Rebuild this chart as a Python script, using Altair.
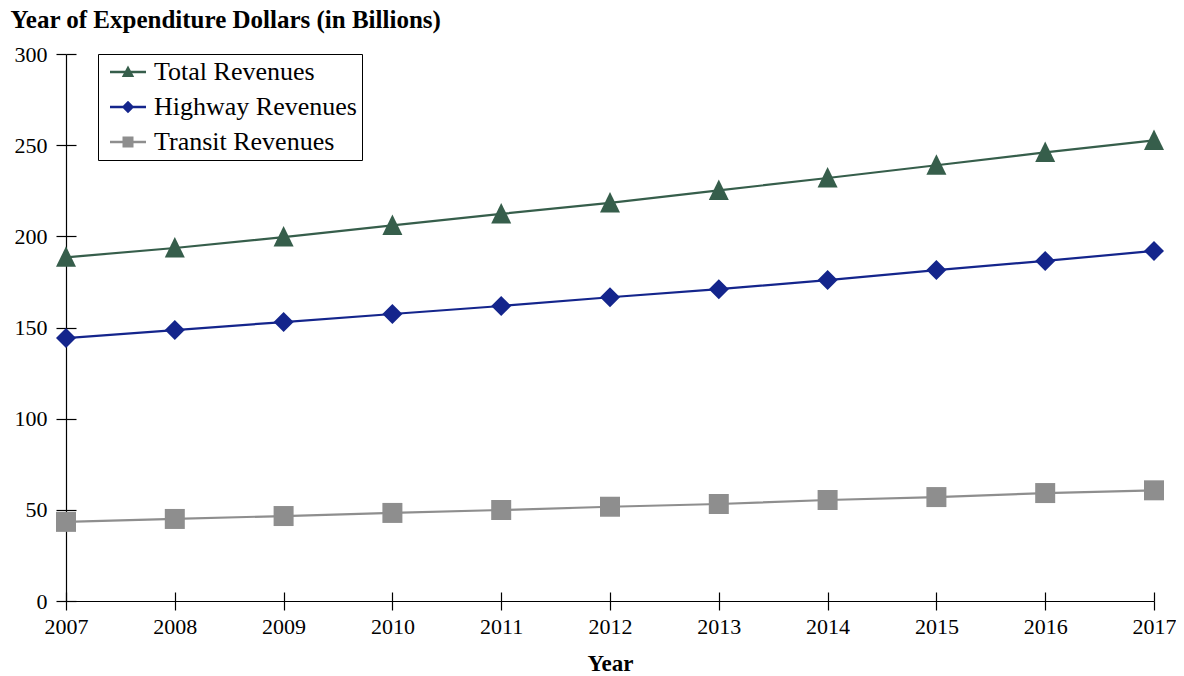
import altair as alt
import pandas as pd

years = [2007, 2008, 2009, 2010, 2011, 2012, 2013, 2014, 2015, 2016, 2017]
total = [188.5, 193.6, 199.6, 206.0, 212.3, 218.3, 225.2, 232.0, 239.0, 246.0, 252.6]
highway = [144.2, 148.6, 153.0, 157.4, 161.8, 166.6, 171.0, 176.0, 181.5, 186.5, 192.0]
transit = [43.4, 45.0, 46.6, 48.3, 49.9, 51.7, 53.2, 55.4, 57.0, 59.2, 60.7]
series_names = ["Total Revenues", "Highway Revenues", "Transit Revenues"]
colors = ["#365e4b", "#14258c", "#8e8e8e"]
y_ticks = [0, 50, 100, 150, 200, 250, 300]

rows = []
for name, vals in zip(series_names, [total, highway, transit]):
    for yr, v in zip(years, vals):
        rows.append({"year": yr, "value": v, "series": name})
df = pd.DataFrame(rows)

W, H = 1088, 547
FONT = "Liberation Serif"

tri = "M0,-1.1L1,0.95L-1,0.95Z"
marker_shapes = [tri, "diamond", "square"]

# legend glyphs: short line with the series marker
bar = "M-1.8,-0.12H1.8V0.12H-1.8Z "
leg_tri = bar + "M0,-0.65L0.62,0.5L-0.62,0.5Z"
leg_dia = bar + "M0,-0.62L0.62,0L0,0.62L-0.62,0Z"
leg_sq = bar + "M-0.55,-0.55H0.55V0.55H-0.55Z"
sym_expr = (
    f"datum.value === '{series_names[0]}' ? '{leg_tri}' : "
    f"(datum.value === '{series_names[1]}' ? '{leg_dia}' : '{leg_sq}')"
)

legend = alt.Legend(
    title=None, orient="none", legendX=32, legendY=0,
    strokeColor="black", fillColor="white", padding=5,
    labelFont=FONT, labelFontSize=26, labelColor="black", labelOffset=13,
    labelLimit=500, labelExpr="datum.label + ' '",
    symbolSize=400, symbolStrokeWidth=0, symbolOpacity=1, symbolOffset=12,
    rowPadding=9, symbolType=alt.ExprRef(sym_expr),
)

cscale = alt.Scale(domain=series_names, range=colors)
color_leg = alt.Color("series:N", scale=cscale, legend=legend)
xscale = alt.Scale(domain=[2007, 2017], nice=False, zero=False)
yscale = alt.Scale(domain=[0, 300], nice=False)

x_main = alt.X("year:Q", scale=xscale, axis=alt.Axis(
    values=years, format="d", tickSize=9, labelPadding=6, grid=False, labelFlush=False,
    title="Year", titleFontWeight="bold", titleFont=FONT, titleFontSize=23,
    titleY=69, titleBaseline="alphabetic", titleColor="black",
    labelFont=FONT, labelFontSize=22, labelColor="black",
    domainColor="black", tickColor="black", domainWidth=1.2, tickWidth=1.2))
y_main = alt.Y("value:Q", scale=yscale, axis=alt.Axis(
    values=y_ticks, tickSize=10, labelPadding=9, grid=False, labelFlush=False,
    title="Year of Expenditure Dollars (in Billions)", titleAngle=0,
    titleAlign="left", titleBaseline="alphabetic", titleX=-56, titleY=-27,
    titleFont=FONT, titleFontSize=25, titleFontWeight="bold", titleColor="black",
    labelFont=FONT, labelFontSize=22, labelColor="black",
    domainColor="black", tickColor="black", domainWidth=1.2, tickWidth=1.2))

x_in = alt.X("year:Q", scale=xscale, axis=alt.Axis(
    orient="top", offset=-H, values=years, tickSize=9, labels=False, domain=False,
    grid=False, title=None, tickColor="black", tickWidth=1.2))
y_in = alt.Y("value:Q", scale=yscale, axis=alt.Axis(
    orient="right", offset=-W, values=y_ticks, tickSize=10, labels=False, domain=False,
    grid=False, title=None, tickColor="black", tickWidth=1.2))
x_none = alt.X("year:Q", scale=xscale, axis=None)
y_none = alt.Y("value:Q", scale=yscale, axis=None)

base = alt.Chart(df)

legend_layer = base.transform_filter("false").mark_point(filled=True, opacity=1).encode(
    x=x_none, y=y_none, color=color_leg)

lines = base.mark_line(strokeWidth=2.2).encode(
    x=x_main, y=y_main, color=color_leg, detail="series:N")

point_layers = []
for i, (name, shp) in enumerate(zip(series_names, marker_shapes)):
    layer = base.transform_filter(alt.datum.series == name).mark_point(
        filled=True, opacity=1, size=400, strokeWidth=0, shape=shp
    ).encode(
        x=x_in if i == 0 else x_none,
        y=y_in if i == 0 else y_none,
        color=color_leg,
    )
    point_layers.append(layer)

chart = alt.layer(legend_layer, lines, *point_layers).resolve_axis(
    x="independent", y="independent"
).properties(
    width=W, height=H,
    padding={"left": 58, "top": 46, "right": 22, "bottom": 75},
    autosize=alt.AutoSizeParams(type="none"),
).configure(font=FONT, background="white").configure_view(stroke=None)

chart.save("out.html", embed_options={"renderer": "svg", "actions": False})
